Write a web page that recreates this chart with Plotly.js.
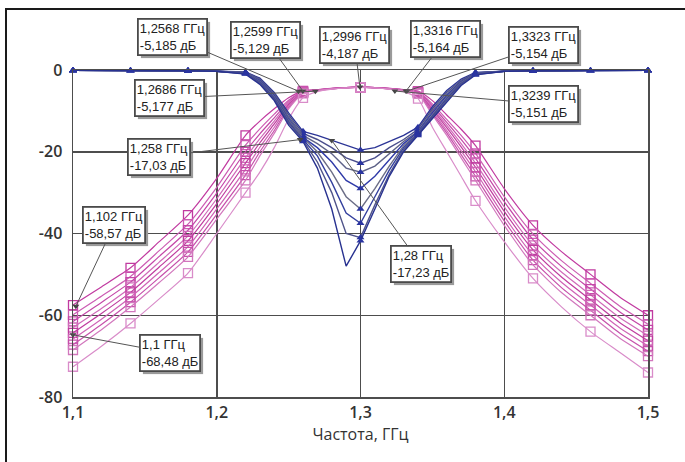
<!DOCTYPE html>
<html>
<head>
<meta charset="utf-8">
<script src="https://cdn.plot.ly/plotly-3.0.1.min.js"></script>
<style>
  html, body { margin: 0; padding: 0; background: #fff; }
  #wrap { position: relative; width: 685px; height: 462px; }
  #chart { position: absolute; left: 0; top: 0; width: 685px; height: 462px; }
  #frame { position: absolute; left: 5px; top: 8px; right: 0; bottom: 0;
           border-top: 2px solid #1a1a1a; border-left: 2px solid #1a1a1a; pointer-events: none; }
</style>
</head>
<body>
<div id="wrap"><div id="chart"></div><div id="frame"></div></div>
<script>
// ---- data ----
const FREQ = [1.10,1.12,1.14,1.16,1.18,1.20,1.22,1.23,1.24,1.25,1.26,1.27,1.28,1.29,1.30,1.31,1.32,1.33,1.34,1.35,1.36,1.37,1.38,1.40,1.42,1.44,1.46,1.48,1.50];

// transmission curves (magenta), dB
const S21_1 = [-57.5,-53.0,-48.4,-42.0,-35.5,-26.5,-16.0,-12.5,-9.5,-6.8,-5.1,-4.8,-4.5,-4.3,-4.19,-4.3,-4.5,-4.8,-5.15,-7.5,-11.0,-14.5,-18.5,-29.0,-38.0,-44.5,-50.0,-55.5,-60.0];
const S21_2 = [-59.9,-55.3,-50.5,-44.2,-37.7,-28.7,-18.4,-14.4,-10.8,-7.4,-5.2,-4.85,-4.5,-4.3,-4.19,-4.3,-4.5,-4.85,-5.3,-8.3,-12.1,-16.0,-20.4,-31.0,-40.1,-46.7,-52.2,-57.7,-62.2];
const S21_3 = [-61.5,-56.8,-51.9,-45.6,-39.2,-30.1,-20.0,-15.6,-11.7,-7.8,-5.3,-4.9,-4.55,-4.3,-4.19,-4.3,-4.55,-4.9,-5.4,-8.8,-12.8,-17.0,-21.6,-32.2,-41.5,-48.1,-53.6,-59.1,-63.6];
const S21_4 = [-63.0,-58.3,-53.2,-47.0,-40.6,-31.5,-21.5,-16.8,-12.5,-8.2,-5.4,-4.9,-4.55,-4.32,-4.2,-4.32,-4.55,-4.9,-5.45,-9.3,-13.5,-18.0,-22.8,-33.5,-42.9,-49.5,-55.0,-60.5,-65.0];
const S21_5 = [-64.3,-59.5,-54.4,-48.2,-41.8,-32.7,-22.8,-17.8,-13.2,-8.5,-5.5,-4.95,-4.55,-4.33,-4.2,-4.33,-4.55,-4.95,-5.55,-9.7,-14.1,-18.8,-23.8,-34.6,-44.0,-50.7,-56.2,-61.7,-66.2];
const S21_6 = [-65.8,-60.9,-55.6,-49.5,-43.2,-34.0,-24.3,-18.9,-14.0,-8.8,-5.5,-4.95,-4.6,-4.34,-4.2,-4.34,-4.6,-4.95,-5.6,-10.1,-14.8,-19.8,-24.9,-35.8,-45.3,-52.0,-57.5,-63.0,-67.5];
const S21_7 = [-67.2,-62.2,-56.8,-50.8,-44.5,-35.3,-25.7,-20.0,-14.8,-9.2,-5.6,-5.0,-4.6,-4.35,-4.2,-4.35,-4.6,-5.0,-5.7,-10.6,-15.4,-20.7,-26.0,-36.9,-46.5,-53.3,-58.8,-64.3,-68.8];
const S21_8 = [-68.5,-63.5,-58.0,-52.0,-45.7,-36.5,-27.0,-21.0,-15.5,-9.5,-5.7,-5.0,-4.6,-4.35,-4.2,-4.35,-4.6,-5.0,-5.8,-11.0,-16.0,-21.5,-27.0,-38.0,-47.7,-54.5,-60.0,-65.5,-70.0];
const S21_9 = [-72.6,-67.5,-62.0,-56.0,-49.7,-40.0,-30.0,-25.0,-19.0,-12.0,-6.8,-5.3,-4.7,-4.4,-4.25,-4.4,-4.7,-5.3,-7.0,-14.0,-20.0,-26.0,-32.0,-42.0,-51.0,-58.0,-64.0,-69.0,-74.0];

// reflection curves (blue), dB
const S11_1 = [-0.1,-0.1,-0.1,-0.15,-0.2,-0.3,-0.5,-2.0,-5.5,-10.5,-15.0,-16.0,-17.2,-18.5,-19.6,-19.0,-17.5,-16.0,-14.0,-9.0,-5.0,-2.2,-0.6,-0.3,-0.2,-0.15,-0.1,-0.1,-0.1];
const S11_2 = [-0.1,-0.1,-0.1,-0.15,-0.2,-0.3,-0.6,-2.2,-5.8,-11.0,-15.5,-17.0,-19.0,-21.5,-22.8,-21.5,-19.0,-17.0,-14.5,-9.5,-5.5,-2.5,-0.7,-0.3,-0.2,-0.15,-0.1,-0.1,-0.1];
const S11_3 = [-0.1,-0.1,-0.1,-0.15,-0.2,-0.3,-0.6,-2.4,-6.0,-11.5,-16.0,-18.0,-20.5,-24.0,-25.0,-23.5,-20.5,-17.5,-15.0,-10.0,-6.0,-2.7,-0.7,-0.3,-0.2,-0.15,-0.1,-0.1,-0.1];
const S11_4 = [-0.1,-0.1,-0.1,-0.15,-0.2,-0.3,-0.7,-2.6,-6.3,-12.0,-16.5,-19.0,-22.5,-27.0,-29.0,-26.0,-22.0,-18.0,-15.2,-10.5,-6.3,-2.9,-0.8,-0.3,-0.2,-0.15,-0.1,-0.1,-0.1];
const S11_5 = [-0.1,-0.1,-0.1,-0.15,-0.2,-0.3,-0.7,-2.8,-6.6,-12.3,-16.5,-20.0,-25.0,-31.0,-34.0,-29.0,-23.5,-18.5,-15.4,-11.0,-6.7,-3.1,-0.9,-0.3,-0.2,-0.15,-0.1,-0.1,-0.1];
const S11_6 = [-0.1,-0.1,-0.1,-0.15,-0.2,-0.3,-0.8,-3.0,-6.9,-12.7,-17.0,-21.0,-27.5,-35.0,-37.5,-31.0,-24.5,-19.0,-15.6,-11.3,-7.0,-3.3,-1.0,-0.3,-0.2,-0.15,-0.1,-0.1,-0.1];
const S11_7 = [-0.1,-0.1,-0.1,-0.15,-0.2,-0.3,-0.9,-3.2,-7.2,-13.0,-17.2,-22.5,-30.0,-40.0,-41.0,-33.0,-25.5,-19.5,-15.8,-11.6,-7.4,-3.5,-1.1,-0.3,-0.2,-0.15,-0.1,-0.1,-0.1];
const S11_8 = [-0.1,-0.1,-0.1,-0.15,-0.2,-0.3,-1.0,-3.5,-7.5,-13.5,-17.5,-24.0,-34.0,-48.0,-41.8,-34.0,-26.0,-20.0,-16.0,-12.0,-7.8,-3.8,-1.2,-0.3,-0.2,-0.15,-0.1,-0.1,-0.1];

// marker labels
const LABEL_FREQ = [1.2568, 1.2599, 1.2996, 1.3316, 1.3323, 1.2686, 1.3239, 1.258, 1.28, 1.102, 1.1];
const LABEL_DB   = [-5.185, -5.129, -4.187, -5.164, -5.154, -5.177, -5.151, -17.03, -17.23, -58.57, -68.48];
const ARROW_DB   = [-5.185, -5.129, -4.187, -5.164, -5.154, -5.177, -5.151, -17.03, -17.23, -57.8, -64.8];

// ticks
const X_TICKS = [1.1, 1.2, 1.3, 1.4, 1.5];
const X_TICK_LABELS = ['1,1', '1,2', '1,3', '1,4', '1,5'];
const Y_TICKS = [0, -20, -40, -60, -80];
const Y_TICK_LABELS = ['0', '-20', '-40', '-60', '-80'];
const X_TITLE = 'Частота, ГГц';

// ---- styling ----
const S21 = [S21_1, S21_2, S21_3, S21_4, S21_5, S21_6, S21_7, S21_8, S21_9];
const S11 = [S11_1, S11_2, S11_3, S11_4, S11_5, S11_6, S11_7, S11_8];
const magColors = ['#c13aa0', '#cc5cb3', '#c447a8', '#d06ab9', '#bf3d9f', '#cf63b6', '#c650ab', '#d277bd', '#d98cc9'];
const blueColors = ['#2c3596', '#4a4e8c', '#5e6288', '#2f3aa8', '#6b6d86', '#34409e', '#50548a', '#283290'];
// label box offsets in pixels (box centre relative to arrow point)
const LABEL_AX = [-126, -37, -5, 40, 137, -146, 149, -141, 89, 38, 97];
const LABEL_AY = [-54, -51, -42, -52, -46, 7, 13, 17, 124, -81, 18];

const isMarkerX = x => Math.round(x * 100) % 4 === 2;
const mIdx = FREQ.map((x, i) => isMarkerX(x) ? i : -1).filter(i => i >= 0);

const traces = [];
S21.forEach((ys, k) => {
  traces.push({x: FREQ, y: ys, mode: 'lines', type: 'scatter', hoverinfo: 'skip',
    line: {color: magColors[k], width: 1.2, shape: 'spline', smoothing: 0.6}});
  traces.push({x: mIdx.map(i => FREQ[i]), y: mIdx.map(i => ys[i]), mode: 'markers', type: 'scatter',
    cliponaxis: false, hoverinfo: 'skip',
    marker: {symbol: 'square-open', size: 9, color: magColors[k], line: {width: 1.3}}});
});
S11.forEach((ys, k) => {
  traces.push({x: FREQ, y: ys, mode: 'lines', type: 'scatter', hoverinfo: 'skip',
    line: {color: blueColors[k], width: 1.4}});
  traces.push({x: mIdx.map(i => FREQ[i]), y: mIdx.map(i => ys[i]), mode: 'markers', type: 'scatter',
    cliponaxis: false, hoverinfo: 'skip',
    marker: {symbol: 'triangle-up', size: 7, color: '#2a34a0'}});
});
traces.push({x: LABEL_FREQ, y: ARROW_DB, mode: 'markers', type: 'scatter', hoverinfo: 'skip',
  cliponaxis: false, marker: {symbol: 'triangle-down', size: 6, color: '#444'}});

const fmt = v => String(v).replace('.', ',');
const annotations = LABEL_FREQ.map((f, i) => ({
  x: f, y: ARROW_DB[i], xref: 'x', yref: 'y',
  text: fmt(f) + ' ГГц<br>' + fmt(LABEL_DB[i]) + ' дБ',
  showarrow: true, arrowhead: 0, arrowcolor: '#555', arrowwidth: 1,
  ax: LABEL_AX[i], ay: LABEL_AY[i], align: 'left',
  bgcolor: '#ffffff', bordercolor: '#4a4a4a', borderwidth: 1.8, borderpad: 1,
  font: {family: 'Liberation Sans, Arial, sans-serif', size: 13, color: '#222'}
}));

const axisCommon = {showgrid: true, gridcolor: '#4d4d4d', gridwidth: 1.5, showline: true,
  linecolor: '#4d4d4d', linewidth: 1.5, mirror: true, zeroline: false, ticks: '',
  tickfont: {family: 'Open Sans, sans-serif', size: 16, color: '#333', weight: 600}};

const layout = {
  width: 685, height: 462,
  margin: {l: 73, r: 37, t: 70, b: 65},
  paper_bgcolor: '#ffffff', plot_bgcolor: '#ffffff',
  showlegend: false,
  xaxis: Object.assign({}, axisCommon, {range: [1.1, 1.5], tickvals: X_TICKS, ticktext: X_TICK_LABELS,
    title: {text: X_TITLE, font: {family: 'Open Sans, sans-serif', size: 16, color: '#333'}, standoff: 5}}),
  yaxis: Object.assign({}, axisCommon, {range: [-80, 0], tickvals: Y_TICKS, ticktext: Y_TICK_LABELS,
    ticklabelstandoff: 6}),
  annotations: annotations
};

Plotly.newPlot('chart', traces, layout, {staticPlot: true, displayModeBar: false}).then(gd => {
  // drop shadow behind each label box
  gd.querySelectorAll('.annotation-text-g').forEach(g => {
    const bg = g.querySelector('rect.bg');
    if (!bg) return;
    const sh = bg.cloneNode(false);
    sh.classList.remove('bg');
    sh.setAttribute('transform', (bg.getAttribute('transform') || '') + ' translate(3,3)');
    sh.style.fill = '#9a9a9a';
    sh.style.stroke = 'none';
    sh.style.fillOpacity = 1;
    bg.parentNode.insertBefore(sh, bg);
  });
});
</script>
</body>
</html>
